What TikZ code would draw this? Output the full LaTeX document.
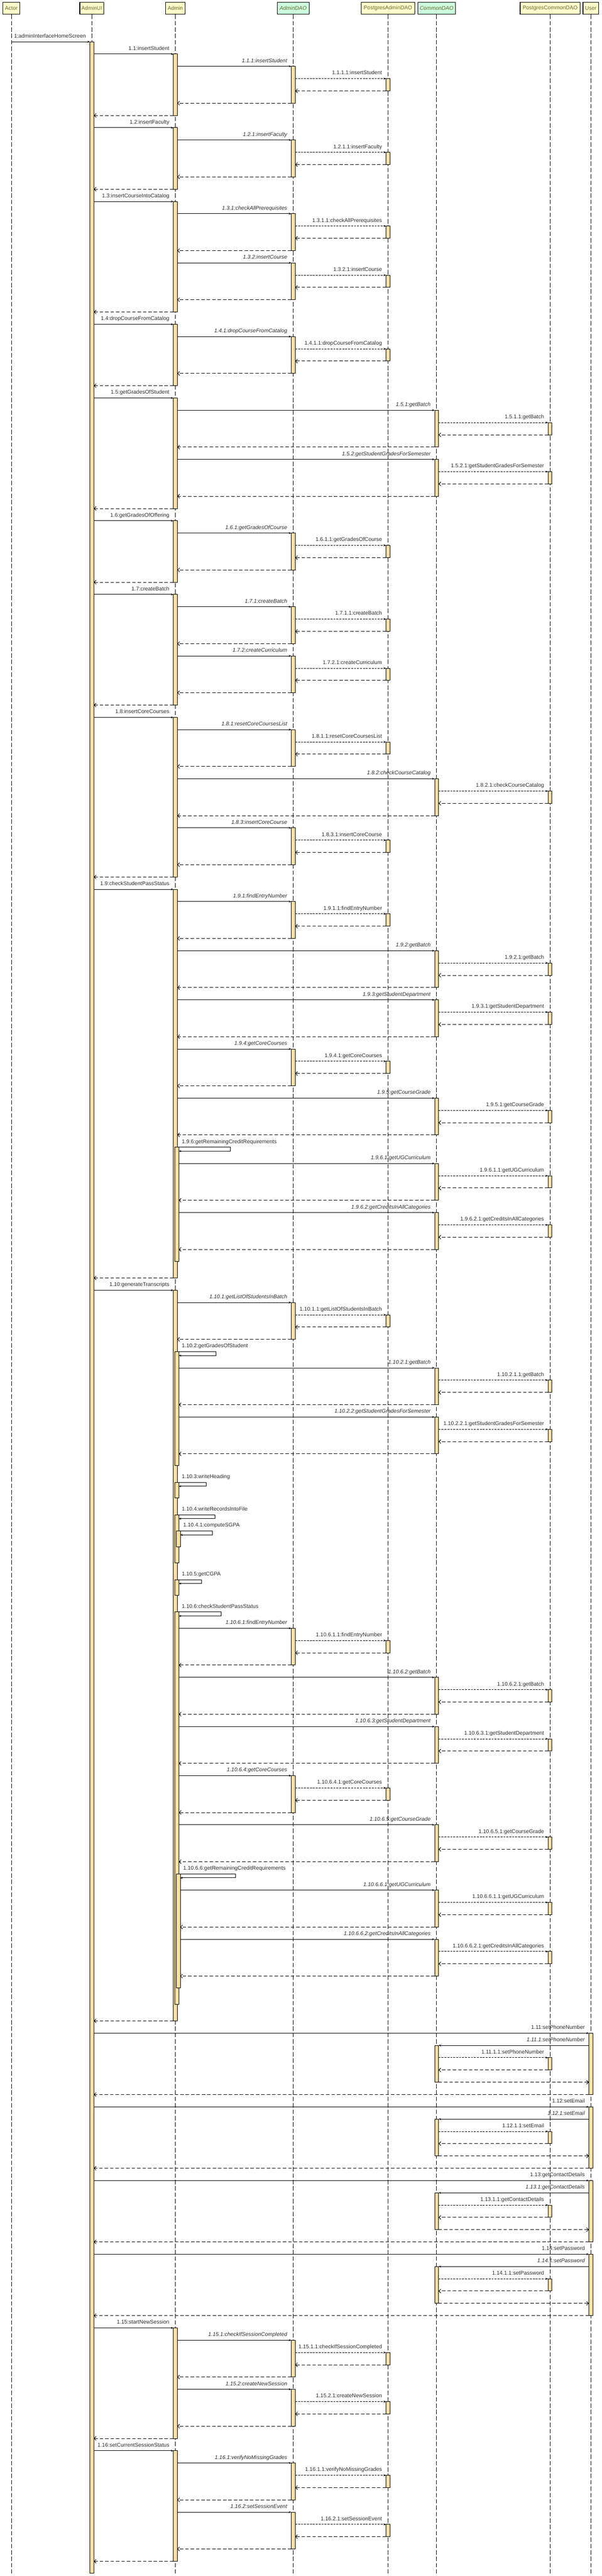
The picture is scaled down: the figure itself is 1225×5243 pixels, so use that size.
\documentclass[tikz,border=0pt]{standalone}
\usepackage{fontspec}
\setmainfont{Liberation Sans}
\usetikzlibrary{arrows.meta}

\definecolor{headyellow}{RGB}{255,255,204}
\definecolor{headgreen}{RGB}{204,255,221}
\definecolor{barorange}{RGB}{255,222,165}
\definecolor{headtext}{RGB}{105,105,45}
\definecolor{labeltext}{RGB}{45,45,45}

\newcommand{\msgfont}{\fontsize{11}{13}\selectfont}

% call + reply: arrow style, label style, source bar, new bar, lifeline, top, bottom, label
\newcommand{\msgcore}[8]{%
  \node[actbox, anchor=north, minimum height={(#7-#6)*1pt}] (#4) at (#5 |- 0,#6) {};
  \path[#1] (#3.east |- #4.north) edge (#4.north west);
  \path (#4.north west) ++(-8,-8) node[#2, anchor=base east] {#8};
  \path[reply] (#4.south west) edge (#3.east |- #4.south);
}
\newcommand{\ucall}{\msgcore{call}{lab}}
\newcommand{\dcall}{\msgcore{call}{ilab}}
\newcommand{\pcall}[5]{\msgcore{pgcall}{lab}{#1}{#2}{#3}{#4}{#4+25}{#5}}
% call to the left (User -> CommonDAO)
\newcommand{\lcall}[6]{%
  \node[actbox, anchor=north, minimum height={(#5-#4)*1pt}] (#2) at (#3 |- 0,#4) {};
  \path[call] (#1.west |- #2.north) edge (#2.north east);
  \path (#1.west |- #2.north) ++(-8,-8) node[ilab, anchor=base east] {#6};
  \path[reply] (#2.south east) edge (#1.west |- #2.south);
}
% self call: source bar, new bar, top, bottom, loop width, label
\newcommand{\selfcall}[6]{%
  \node[actbox, anchor=north, xshift=3pt, minimum height={(#4-#3)*1pt}] (#2) at (#1.north |- 0,#3) {};
  \draw[call] (#1.east |- #2.north) -- ++(#5,0) -- ++(0,8) -- ([yshift=-8pt]#2.north east);
  \path (#2.north east) ++(6,-8) node[lab, anchor=base west] {#6};
}

\begin{document}
\begin{tikzpicture}[x=1pt, y=-1pt]

      \tikzset{head/.style={draw, line width=1.2pt, minimum height=24pt, inner xsep=2pt, text=headtext, font=\msgfont},
               actbox/.style={draw, fill=barorange, line width=1pt, minimum width=8pt, inner sep=0pt, outer sep=0pt},
               call/.style={line width=1pt, -{Stealth[length=5pt,width=4pt]}},
               pgcall/.style={call, dash pattern=on 4pt off 2pt},
               reply/.style={line width=1pt, dash pattern=on 7pt off 4pt, -{Straight Barb[length=4pt,width=8pt]}},
               lab/.style={inner sep=0pt, text=labeltext, font=\msgfont},
               ilab/.style={lab, font=\msgfont\itshape},
               lifeline/.style={line width=0.7pt, dash pattern=on 9pt off 4pt}}

      \useasboundingbox (0,0) rectangle (1225,5243);
      \fill[white] (0,0) rectangle (1225,5243);

%% Lifelines
      \node[head, fill=headyellow, minimum width=35pt] (actor) at (23,17) {Actor};
      \node[head, fill=headyellow, minimum width=49pt] (adminui) at (187,17) {AdminUI};
      \node[head, fill=headyellow, minimum width=40pt] (admin) at (357,17) {Admin};
      \node[head, fill=headgreen, minimum width=65pt, font=\msgfont\itshape] (admindao) at (597,17) {AdminDAO};
      \node[head, fill=headyellow, minimum width=109pt] (pgadmindao) at (790,17) {PostgresAdminDAO};
      \node[head, fill=headgreen, minimum width=77pt, font=\msgfont\itshape] (commondao) at (889,17) {CommonDAO};
      \node[head, fill=headyellow, minimum width=122pt] (pgcommondao) at (1120,17) {PostgresCommonDAO};
      \node[head, fill=headyellow, minimum width=32pt] (user) at (1203,17) {User};
      \coordinate (bottom) at (0,5238);

      \draw[lifeline] (actor.south) -- (actor |- bottom);
      \draw[lifeline] (adminui.south) -- (adminui |- bottom);
      \draw[lifeline] (admin.south) -- (admin |- bottom);
      \draw[lifeline] (admindao.south) -- (admindao |- bottom);
      \draw[lifeline] (pgadmindao.south) -- (pgadmindao |- bottom);
      \draw[lifeline] (commondao.south) -- (commondao |- bottom);
      \draw[lifeline] (pgcommondao.south) -- (pgcommondao |- bottom);
      \draw[lifeline] (user.south) -- (user |- bottom);

%Messages
      \node[actbox, anchor=north, minimum height=5152pt] (ui) at (adminui |- 0,85) {};
      \path[call] (actor |- ui.north) edge (ui.north west);
      \path (ui.north west) ++(-8,-8) node[lab, anchor=base east] {1:adminInterfaceHomeScreen};

      \ucall{ui}{s1_1}{admin}{110}{235}{1.1:insertStudent}
      \dcall{s1_1}{s1_1_1}{admindao}{135}{210}{1.1.1:insertStudent}
      \pcall{s1_1_1}{s1_1_1_1}{pgadmindao}{160}{1.1.1.1:insertStudent}

      \ucall{ui}{s1_2}{admin}{260}{385}{1.2:insertFaculty}
      \dcall{s1_2}{s1_2_1}{admindao}{285}{360}{1.2.1:insertFaculty}
      \pcall{s1_2_1}{s1_2_1_1}{pgadmindao}{310}{1.2.1.1:insertFaculty}

      \ucall{ui}{s1_3}{admin}{410}{635}{1.3:insertCourseIntoCatalog}
      \dcall{s1_3}{s1_3_1}{admindao}{435}{510}{1.3.1:checkAllPrerequisites}
      \pcall{s1_3_1}{s1_3_1_1}{pgadmindao}{460}{1.3.1.1:checkAllPrerequisites}
      \dcall{s1_3}{s1_3_2}{admindao}{535}{610}{1.3.2:insertCourse}
      \pcall{s1_3_2}{s1_3_2_1}{pgadmindao}{560}{1.3.2.1:insertCourse}

      \ucall{ui}{s1_4}{admin}{660}{785}{1.4:dropCourseFromCatalog}
      \dcall{s1_4}{s1_4_1}{admindao}{685}{760}{1.4.1:dropCourseFromCatalog}
      \pcall{s1_4_1}{s1_4_1_1}{pgadmindao}{710}{1.4.1.1:dropCourseFromCatalog}

      \ucall{ui}{s1_5}{admin}{810}{1035}{1.5:getGradesOfStudent}
      \dcall{s1_5}{s1_5_1}{commondao}{835}{910}{1.5.1:getBatch}
      \pcall{s1_5_1}{s1_5_1_1}{pgcommondao}{860}{1.5.1.1:getBatch}
      \dcall{s1_5}{s1_5_2}{commondao}{935}{1010}{1.5.2:getStudentGradesForSemester}
      \pcall{s1_5_2}{s1_5_2_1}{pgcommondao}{960}{1.5.2.1:getStudentGradesForSemester}

      \ucall{ui}{s1_6}{admin}{1060}{1185}{1.6:getGradesOfOffering}
      \dcall{s1_6}{s1_6_1}{admindao}{1085}{1160}{1.6.1:getGradesOfCourse}
      \pcall{s1_6_1}{s1_6_1_1}{pgadmindao}{1110}{1.6.1.1:getGradesOfCourse}

      \ucall{ui}{s1_7}{admin}{1210}{1435}{1.7:createBatch}
      \dcall{s1_7}{s1_7_1}{admindao}{1235}{1310}{1.7.1:createBatch}
      \pcall{s1_7_1}{s1_7_1_1}{pgadmindao}{1260}{1.7.1.1:createBatch}
      \dcall{s1_7}{s1_7_2}{admindao}{1335}{1410}{1.7.2:createCurriculum}
      \pcall{s1_7_2}{s1_7_2_1}{pgadmindao}{1360}{1.7.2.1:createCurriculum}

      \ucall{ui}{s1_8}{admin}{1460}{1785}{1.8:insertCoreCourses}
      \dcall{s1_8}{s1_8_1}{admindao}{1485}{1560}{1.8.1:resetCoreCoursesList}
      \pcall{s1_8_1}{s1_8_1_1}{pgadmindao}{1510}{1.8.1.1:resetCoreCoursesList}
      \dcall{s1_8}{s1_8_2}{commondao}{1585}{1660}{1.8.2:checkCourseCatalog}
      \pcall{s1_8_2}{s1_8_2_1}{pgcommondao}{1610}{1.8.2.1:checkCourseCatalog}
      \dcall{s1_8}{s1_8_3}{admindao}{1685}{1760}{1.8.3:insertCoreCourse}
      \pcall{s1_8_3}{s1_8_3_1}{pgadmindao}{1710}{1.8.3.1:insertCoreCourse}

      \ucall{ui}{s1_9}{admin}{1810}{2601}{1.9:checkStudentPassStatus}
      \dcall{s1_9}{s1_9_1}{admindao}{1835}{1910}{1.9.1:findEntryNumber}
      \pcall{s1_9_1}{s1_9_1_1}{pgadmindao}{1860}{1.9.1.1:findEntryNumber}
      \dcall{s1_9}{s1_9_2}{commondao}{1935}{2010}{1.9.2:getBatch}
      \pcall{s1_9_2}{s1_9_2_1}{pgcommondao}{1960}{1.9.2.1:getBatch}
      \dcall{s1_9}{s1_9_3}{commondao}{2035}{2110}{1.9.3:getStudentDepartment}
      \pcall{s1_9_3}{s1_9_3_1}{pgcommondao}{2060}{1.9.3.1:getStudentDepartment}
      \dcall{s1_9}{s1_9_4}{admindao}{2135}{2210}{1.9.4:getCoreCourses}
      \pcall{s1_9_4}{s1_9_4_1}{pgadmindao}{2160}{1.9.4.1:getCoreCourses}
      \dcall{s1_9}{s1_9_5}{commondao}{2235}{2310}{1.9.5:getCourseGrade}
      \pcall{s1_9_5}{s1_9_5_1}{pgcommondao}{2260}{1.9.5.1:getCourseGrade}
      \selfcall{s1_9}{s1_9_6}{2335}{2567}{108}{1.9.6:getRemainingCreditRequirements}
      \dcall{s1_9_6}{s1_9_6_1}{commondao}{2368}{2443}{1.9.6.1:getUGCurriculum}
      \pcall{s1_9_6_1}{s1_9_6_1_1}{pgcommondao}{2393}{1.9.6.1.1:getUGCurriculum}
      \dcall{s1_9_6}{s1_9_6_2}{commondao}{2468}{2543}{1.9.6.2:getCreditsInAllCategories}
      \pcall{s1_9_6_2}{s1_9_6_2_1}{pgcommondao}{2493}{1.9.6.2.1:getCreditsInAllCategories}

      \ucall{ui}{s1_10}{admin}{2626}{4113}{1.10:generateTranscripts}
      \dcall{s1_10}{s1_10_1}{admindao}{2651}{2726}{1.10.1:getListOfStudentsInBatch}
      \pcall{s1_10_1}{s1_10_1_1}{pgadmindao}{2676}{1.10.1.1:getListOfStudentsInBatch}
      \selfcall{s1_10}{s1_10_2}{2751}{2983}{79}{1.10.2:getGradesOfStudent}
      \dcall{s1_10_2}{s1_10_2_1}{commondao}{2784}{2859}{1.10.2.1:getBatch}
      \pcall{s1_10_2_1}{s1_10_2_1_1}{pgcommondao}{2809}{1.10.2.1.1:getBatch}
      \dcall{s1_10_2}{s1_10_2_2}{commondao}{2884}{2959}{1.10.2.2:getStudentGradesForSemester}
      \pcall{s1_10_2_2}{s1_10_2_2_1}{pgcommondao}{2909}{1.10.2.2.1:getStudentGradesForSemester}
      \selfcall{s1_10}{s1_10_3}{3017}{3049}{59}{1.10.3:writeHeading}
      \selfcall{s1_10}{s1_10_4}{3083}{3181}{77}{1.10.4:writeRecordsIntoFile}
      \selfcall{s1_10_4}{s1_10_4_1}{3116}{3148}{68}{1.10.4.1:computeSGPA}
      \selfcall{s1_10}{s1_10_5}{3215}{3247}{50}{1.10.5:getCGPA}
      \selfcall{s1_10}{s1_10_6}{3281}{4079}{89}{1.10.6:checkStudentPassStatus}
      \dcall{s1_10_6}{s1_10_6_1}{admindao}{3314}{3389}{1.10.6.1:findEntryNumber}
      \pcall{s1_10_6_1}{s1_10_6_1_1}{pgadmindao}{3339}{1.10.6.1.1:findEntryNumber}
      \dcall{s1_10_6}{s1_10_6_2}{commondao}{3414}{3489}{1.10.6.2:getBatch}
      \pcall{s1_10_6_2}{s1_10_6_2_1}{pgcommondao}{3439}{1.10.6.2.1:getBatch}
      \dcall{s1_10_6}{s1_10_6_3}{commondao}{3514}{3589}{1.10.6.3:getStudentDepartment}
      \pcall{s1_10_6_3}{s1_10_6_3_1}{pgcommondao}{3539}{1.10.6.3.1:getStudentDepartment}
      \dcall{s1_10_6}{s1_10_6_4}{admindao}{3614}{3689}{1.10.6.4:getCoreCourses}
      \pcall{s1_10_6_4}{s1_10_6_4_1}{pgadmindao}{3639}{1.10.6.4.1:getCoreCourses}
      \dcall{s1_10_6}{s1_10_6_5}{commondao}{3714}{3789}{1.10.6.5:getCourseGrade}
      \pcall{s1_10_6_5}{s1_10_6_5_1}{pgcommondao}{3739}{1.10.6.5.1:getCourseGrade}
      \selfcall{s1_10_6}{s1_10_6_6}{3814}{4046}{116}{1.10.6.6:getRemainingCreditRequirements}
      \dcall{s1_10_6_6}{s1_10_6_6_1}{commondao}{3847}{3922}{1.10.6.6.1:getUGCurriculum}
      \pcall{s1_10_6_6_1}{s1_10_6_6_1_1}{pgcommondao}{3872}{1.10.6.6.1.1:getUGCurriculum}
      \dcall{s1_10_6_6}{s1_10_6_6_2}{commondao}{3947}{4022}{1.10.6.6.2:getCreditsInAllCategories}
      \pcall{s1_10_6_6_2}{s1_10_6_6_2_1}{pgcommondao}{3972}{1.10.6.6.2.1:getCreditsInAllCategories}

      \ucall{ui}{s1_11}{user}{4138}{4263}{1.11:setPhoneNumber}
      \lcall{s1_11}{s1_11_1}{commondao}{4163}{4238}{1.11.1:setPhoneNumber}
      \pcall{s1_11_1}{s1_11_1_1}{pgcommondao}{4188}{1.11.1.1:setPhoneNumber}

      \ucall{ui}{s1_12}{user}{4288}{4413}{1.12:setEmail}
      \lcall{s1_12}{s1_12_1}{commondao}{4313}{4388}{1.12.1:setEmail}
      \pcall{s1_12_1}{s1_12_1_1}{pgcommondao}{4338}{1.12.1.1:setEmail}

      \ucall{ui}{s1_13}{user}{4438}{4563}{1.13:getContactDetails}
      \lcall{s1_13}{s1_13_1}{commondao}{4463}{4538}{1.13.1:getContactDetails}
      \pcall{s1_13_1}{s1_13_1_1}{pgcommondao}{4488}{1.13.1.1:getContactDetails}

      \ucall{ui}{s1_14}{user}{4588}{4713}{1.14:setPassword}
      \lcall{s1_14}{s1_14_1}{commondao}{4613}{4688}{1.14.1:setPassword}
      \pcall{s1_14_1}{s1_14_1_1}{pgcommondao}{4638}{1.14.1.1:setPassword}

      \ucall{ui}{s1_15}{admin}{4738}{4963}{1.15:startNewSession}
      \dcall{s1_15}{s1_15_1}{admindao}{4763}{4838}{1.15.1:checkIfSessionCompleted}
      \pcall{s1_15_1}{s1_15_1_1}{pgadmindao}{4788}{1.15.1.1:checkIfSessionCompleted}
      \dcall{s1_15}{s1_15_2}{admindao}{4863}{4938}{1.15.2:createNewSession}
      \pcall{s1_15_2}{s1_15_2_1}{pgadmindao}{4888}{1.15.2.1:createNewSession}

      \ucall{ui}{s1_16}{admin}{4988}{5213}{1.16:setCurrentSessionStatus}
      \dcall{s1_16}{s1_16_1}{admindao}{5013}{5088}{1.16.1:verifyNoMissingGrades}
      \pcall{s1_16_1}{s1_16_1_1}{pgadmindao}{5038}{1.16.1.1:verifyNoMissingGrades}
      \dcall{s1_16}{s1_16_2}{admindao}{5113}{5188}{1.16.2:setSessionEvent}
      \pcall{s1_16_2}{s1_16_2_1}{pgadmindao}{5138}{1.16.2.1:setSessionEvent}

\end{tikzpicture}
\end{document}
